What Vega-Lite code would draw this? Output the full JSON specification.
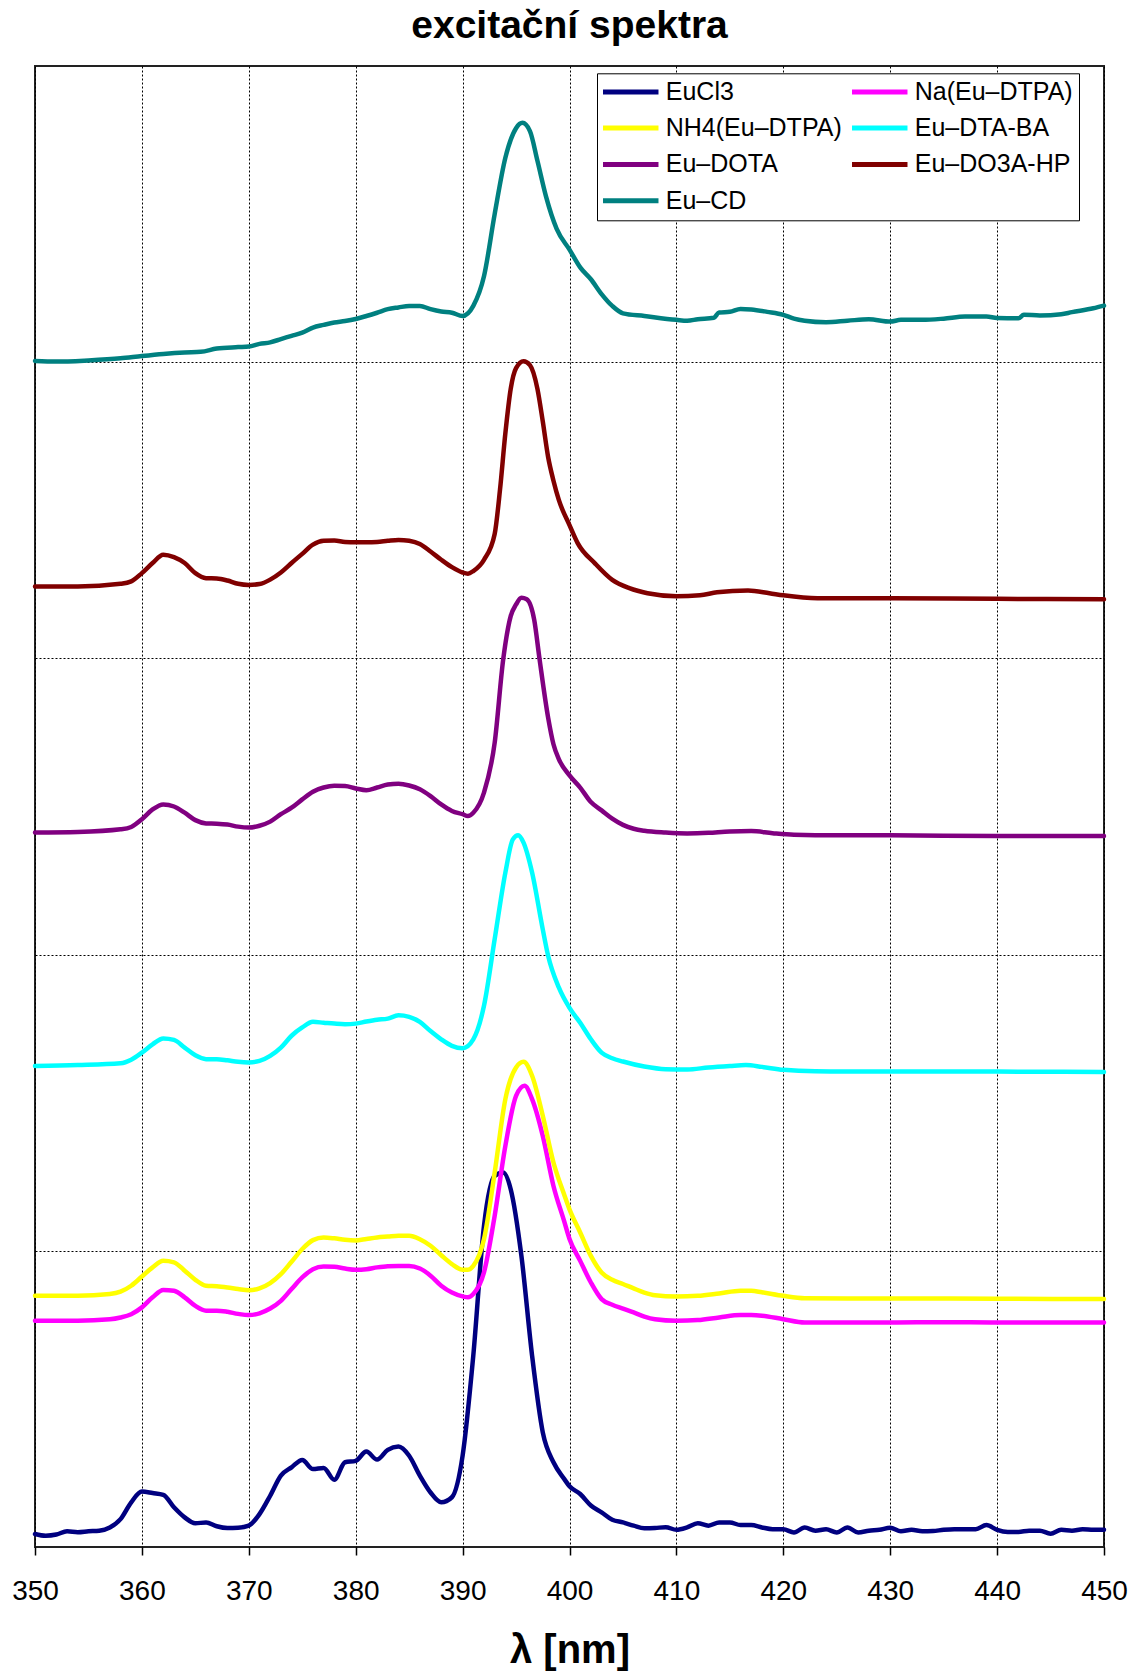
{
  "$schema": "https://vega.github.io/schema/vega-lite/v6.json",
  "width": 1069,
  "height": 1481,
  "autosize": {"type": "none"},
  "padding": {"left": 35, "top": 66, "right": 28, "bottom": 128},
  "background": "white",
  "title": {
    "text": "excitační spektra",
    "font": "Liberation Sans",
    "fontSize": 39,
    "fontWeight": "bold",
    "color": "black",
    "anchor": "middle",
    "baseline": "alphabetic",
    "offset": 25,
    "dy": 36
  },
  "config": {
    "font": "Liberation Sans",
    "view": {"stroke": "#222222", "strokeWidth": 2}
  },
  "data": {
    "values": [
      {"s": "EuCl3", "x": 350, "y": 0.044}, {"s": "EuCl3", "x": 351, "y": 0.038}, {"s": "EuCl3", "x": 352, "y": 0.042}, {"s": "EuCl3", "x": 353, "y": 0.053}, {"s": "EuCl3", "x": 354, "y": 0.05}, {"s": "EuCl3", "x": 355, "y": 0.053}, {"s": "EuCl3", "x": 356, "y": 0.055}, {"s": "EuCl3", "x": 357, "y": 0.066}, {"s": "EuCl3", "x": 358, "y": 0.094}, {"s": "EuCl3", "x": 359, "y": 0.151}, {"s": "EuCl3", "x": 360, "y": 0.187}, {"s": "EuCl3", "x": 361, "y": 0.182}, {"s": "EuCl3", "x": 362, "y": 0.176}, {"s": "EuCl3", "x": 363, "y": 0.134}, {"s": "EuCl3", "x": 364, "y": 0.1}, {"s": "EuCl3", "x": 365, "y": 0.08}, {"s": "EuCl3", "x": 366, "y": 0.083}, {"s": "EuCl3", "x": 367, "y": 0.07}, {"s": "EuCl3", "x": 368, "y": 0.064}, {"s": "EuCl3", "x": 369, "y": 0.065}, {"s": "EuCl3", "x": 370, "y": 0.072}, {"s": "EuCl3", "x": 371, "y": 0.111}, {"s": "EuCl3", "x": 372, "y": 0.173}, {"s": "EuCl3", "x": 373, "y": 0.241}, {"s": "EuCl3", "x": 374, "y": 0.269}, {"s": "EuCl3", "x": 375, "y": 0.294}, {"s": "EuCl3", "x": 376, "y": 0.263}, {"s": "EuCl3", "x": 377, "y": 0.267}, {"s": "EuCl3", "x": 378, "y": 0.227}, {"s": "EuCl3", "x": 379, "y": 0.286}, {"s": "EuCl3", "x": 380, "y": 0.291}, {"s": "EuCl3", "x": 381, "y": 0.322}, {"s": "EuCl3", "x": 382, "y": 0.295}, {"s": "EuCl3", "x": 383, "y": 0.328}, {"s": "EuCl3", "x": 384, "y": 0.339}, {"s": "EuCl3", "x": 385, "y": 0.308}, {"s": "EuCl3", "x": 386, "y": 0.241}, {"s": "EuCl3", "x": 387, "y": 0.184}, {"s": "EuCl3", "x": 388, "y": 0.151}, {"s": "EuCl3", "x": 389, "y": 0.168}, {"s": "EuCl3", "x": 390, "y": 0.308}, {"s": "EuCl3", "x": 391, "y": 0.646}, {"s": "EuCl3", "x": 392, "y": 1.084}, {"s": "EuCl3", "x": 393, "y": 1.253}, {"s": "EuCl3", "x": 393.8, "y": 1.264}, {"s": "EuCl3", "x": 394.5, "y": 1.208}, {"s": "EuCl3", "x": 395.5, "y": 0.983}, {"s": "EuCl3", "x": 396.5, "y": 0.646}, {"s": "EuCl3", "x": 397.5, "y": 0.387}, {"s": "EuCl3", "x": 398.5, "y": 0.286}, {"s": "EuCl3", "x": 399.5, "y": 0.23}, {"s": "EuCl3", "x": 400, "y": 0.205}, {"s": "EuCl3", "x": 401, "y": 0.179}, {"s": "EuCl3", "x": 402, "y": 0.14}, {"s": "EuCl3", "x": 403, "y": 0.117}, {"s": "EuCl3", "x": 404, "y": 0.092}, {"s": "EuCl3", "x": 405, "y": 0.083}, {"s": "EuCl3", "x": 406, "y": 0.072}, {"s": "EuCl3", "x": 407, "y": 0.063}, {"s": "EuCl3", "x": 408, "y": 0.064}, {"s": "EuCl3", "x": 409, "y": 0.067}, {"s": "EuCl3", "x": 410, "y": 0.058}, {"s": "EuCl3", "x": 411, "y": 0.066}, {"s": "EuCl3", "x": 412, "y": 0.08}, {"s": "EuCl3", "x": 413, "y": 0.072}, {"s": "EuCl3", "x": 414, "y": 0.083}, {"s": "EuCl3", "x": 415, "y": 0.083}, {"s": "EuCl3", "x": 416, "y": 0.074}, {"s": "EuCl3", "x": 417, "y": 0.074}, {"s": "EuCl3", "x": 418, "y": 0.066}, {"s": "EuCl3", "x": 419, "y": 0.06}, {"s": "EuCl3", "x": 420, "y": 0.06}, {"s": "EuCl3", "x": 421, "y": 0.049}, {"s": "EuCl3", "x": 422, "y": 0.066}, {"s": "EuCl3", "x": 423, "y": 0.055}, {"s": "EuCl3", "x": 424, "y": 0.06}, {"s": "EuCl3", "x": 425, "y": 0.049}, {"s": "EuCl3", "x": 426, "y": 0.066}, {"s": "EuCl3", "x": 427, "y": 0.049}, {"s": "EuCl3", "x": 428, "y": 0.055}, {"s": "EuCl3", "x": 429, "y": 0.058}, {"s": "EuCl3", "x": 430, "y": 0.065}, {"s": "EuCl3", "x": 431, "y": 0.053}, {"s": "EuCl3", "x": 432, "y": 0.058}, {"s": "EuCl3", "x": 433, "y": 0.053}, {"s": "EuCl3", "x": 434, "y": 0.054}, {"s": "EuCl3", "x": 435, "y": 0.058}, {"s": "EuCl3", "x": 436, "y": 0.06}, {"s": "EuCl3", "x": 437, "y": 0.06}, {"s": "EuCl3", "x": 438, "y": 0.06}, {"s": "EuCl3", "x": 439, "y": 0.074}, {"s": "EuCl3", "x": 440, "y": 0.058}, {"s": "EuCl3", "x": 441, "y": 0.051}, {"s": "EuCl3", "x": 442, "y": 0.051}, {"s": "EuCl3", "x": 443, "y": 0.055}, {"s": "EuCl3", "x": 444, "y": 0.055}, {"s": "EuCl3", "x": 445, "y": 0.045}, {"s": "EuCl3", "x": 446, "y": 0.058}, {"s": "EuCl3", "x": 447, "y": 0.055}, {"s": "EuCl3", "x": 448, "y": 0.06}, {"s": "EuCl3", "x": 449, "y": 0.058}, {"s": "EuCl3", "x": 450, "y": 0.058},

      {"s": "Na(Eu–DTPA)", "x": 350, "y": 0.764}, {"s": "Na(Eu–DTPA)", "x": 354, "y": 0.764}, {"s": "Na(Eu–DTPA)", "x": 357, "y": 0.769}, {"s": "Na(Eu–DTPA)", "x": 358, "y": 0.775}, {"s": "Na(Eu–DTPA)", "x": 359, "y": 0.786}, {"s": "Na(Eu–DTPA)", "x": 360, "y": 0.809}, {"s": "Na(Eu–DTPA)", "x": 361, "y": 0.843}, {"s": "Na(Eu–DTPA)", "x": 362, "y": 0.868}, {"s": "Na(Eu–DTPA)", "x": 363, "y": 0.865}, {"s": "Na(Eu–DTPA)", "x": 364, "y": 0.843}, {"s": "Na(Eu–DTPA)", "x": 365, "y": 0.814}, {"s": "Na(Eu–DTPA)", "x": 366, "y": 0.798}, {"s": "Na(Eu–DTPA)", "x": 367, "y": 0.798}, {"s": "Na(Eu–DTPA)", "x": 368, "y": 0.794}, {"s": "Na(Eu–DTPA)", "x": 369, "y": 0.787}, {"s": "Na(Eu–DTPA)", "x": 370, "y": 0.783}, {"s": "Na(Eu–DTPA)", "x": 371, "y": 0.789}, {"s": "Na(Eu–DTPA)", "x": 372, "y": 0.805}, {"s": "Na(Eu–DTPA)", "x": 373, "y": 0.831}, {"s": "Na(Eu–DTPA)", "x": 374, "y": 0.871}, {"s": "Na(Eu–DTPA)", "x": 375, "y": 0.91}, {"s": "Na(Eu–DTPA)", "x": 376, "y": 0.938}, {"s": "Na(Eu–DTPA)", "x": 377, "y": 0.947}, {"s": "Na(Eu–DTPA)", "x": 378, "y": 0.946}, {"s": "Na(Eu–DTPA)", "x": 379, "y": 0.94}, {"s": "Na(Eu–DTPA)", "x": 380, "y": 0.936}, {"s": "Na(Eu–DTPA)", "x": 381, "y": 0.938}, {"s": "Na(Eu–DTPA)", "x": 382, "y": 0.944}, {"s": "Na(Eu–DTPA)", "x": 383, "y": 0.948}, {"s": "Na(Eu–DTPA)", "x": 384, "y": 0.949}, {"s": "Na(Eu–DTPA)", "x": 385, "y": 0.949}, {"s": "Na(Eu–DTPA)", "x": 386, "y": 0.94}, {"s": "Na(Eu–DTPA)", "x": 387, "y": 0.916}, {"s": "Na(Eu–DTPA)", "x": 388, "y": 0.882}, {"s": "Na(Eu–DTPA)", "x": 389, "y": 0.859}, {"s": "Na(Eu–DTPA)", "x": 390, "y": 0.846}, {"s": "Na(Eu–DTPA)", "x": 390.5, "y": 0.843}, {"s": "Na(Eu–DTPA)", "x": 391, "y": 0.854}, {"s": "Na(Eu–DTPA)", "x": 392, "y": 0.927}, {"s": "Na(Eu–DTPA)", "x": 393, "y": 1.118}, {"s": "Na(Eu–DTPA)", "x": 394, "y": 1.354}, {"s": "Na(Eu–DTPA)", "x": 395, "y": 1.523}, {"s": "Na(Eu–DTPA)", "x": 395.8, "y": 1.557}, {"s": "Na(Eu–DTPA)", "x": 396.5, "y": 1.512}, {"s": "Na(Eu–DTPA)", "x": 397.5, "y": 1.388}, {"s": "Na(Eu–DTPA)", "x": 398.5, "y": 1.219}, {"s": "Na(Eu–DTPA)", "x": 399.5, "y": 1.1}, {"s": "Na(Eu–DTPA)", "x": 400, "y": 1.04}, {"s": "Na(Eu–DTPA)", "x": 401, "y": 0.966}, {"s": "Na(Eu–DTPA)", "x": 402, "y": 0.893}, {"s": "Na(Eu–DTPA)", "x": 403, "y": 0.837}, {"s": "Na(Eu–DTPA)", "x": 404, "y": 0.818}, {"s": "Na(Eu–DTPA)", "x": 405, "y": 0.805}, {"s": "Na(Eu–DTPA)", "x": 406, "y": 0.792}, {"s": "Na(Eu–DTPA)", "x": 407, "y": 0.778}, {"s": "Na(Eu–DTPA)", "x": 408, "y": 0.769}, {"s": "Na(Eu–DTPA)", "x": 410, "y": 0.764}, {"s": "Na(Eu–DTPA)", "x": 412, "y": 0.766}, {"s": "Na(Eu–DTPA)", "x": 414, "y": 0.775}, {"s": "Na(Eu–DTPA)", "x": 416, "y": 0.783}, {"s": "Na(Eu–DTPA)", "x": 417, "y": 0.783}, {"s": "Na(Eu–DTPA)", "x": 418, "y": 0.781}, {"s": "Na(Eu–DTPA)", "x": 420, "y": 0.769}, {"s": "Na(Eu–DTPA)", "x": 422, "y": 0.758}, {"s": "Na(Eu–DTPA)", "x": 426, "y": 0.758}, {"s": "Na(Eu–DTPA)", "x": 430, "y": 0.758}, {"s": "Na(Eu–DTPA)", "x": 435, "y": 0.759}, {"s": "Na(Eu–DTPA)", "x": 440, "y": 0.758}, {"s": "Na(Eu–DTPA)", "x": 445, "y": 0.758}, {"s": "Na(Eu–DTPA)", "x": 450, "y": 0.758},

      {"s": "NH4(Eu–DTPA)", "x": 350, "y": 0.848}, {"s": "NH4(Eu–DTPA)", "x": 354, "y": 0.848}, {"s": "NH4(Eu–DTPA)", "x": 357, "y": 0.854}, {"s": "NH4(Eu–DTPA)", "x": 358, "y": 0.862}, {"s": "NH4(Eu–DTPA)", "x": 359, "y": 0.882}, {"s": "NH4(Eu–DTPA)", "x": 360, "y": 0.913}, {"s": "NH4(Eu–DTPA)", "x": 361, "y": 0.944}, {"s": "NH4(Eu–DTPA)", "x": 362, "y": 0.966}, {"s": "NH4(Eu–DTPA)", "x": 363, "y": 0.961}, {"s": "NH4(Eu–DTPA)", "x": 364, "y": 0.933}, {"s": "NH4(Eu–DTPA)", "x": 365, "y": 0.902}, {"s": "NH4(Eu–DTPA)", "x": 366, "y": 0.882}, {"s": "NH4(Eu–DTPA)", "x": 367, "y": 0.88}, {"s": "NH4(Eu–DTPA)", "x": 368, "y": 0.876}, {"s": "NH4(Eu–DTPA)", "x": 369, "y": 0.871}, {"s": "NH4(Eu–DTPA)", "x": 370, "y": 0.867}, {"s": "NH4(Eu–DTPA)", "x": 371, "y": 0.873}, {"s": "NH4(Eu–DTPA)", "x": 372, "y": 0.891}, {"s": "NH4(Eu–DTPA)", "x": 373, "y": 0.921}, {"s": "NH4(Eu–DTPA)", "x": 374, "y": 0.963}, {"s": "NH4(Eu–DTPA)", "x": 375, "y": 1.006}, {"s": "NH4(Eu–DTPA)", "x": 376, "y": 1.036}, {"s": "NH4(Eu–DTPA)", "x": 377, "y": 1.045}, {"s": "NH4(Eu–DTPA)", "x": 378, "y": 1.042}, {"s": "NH4(Eu–DTPA)", "x": 379, "y": 1.037}, {"s": "NH4(Eu–DTPA)", "x": 380, "y": 1.035}, {"s": "NH4(Eu–DTPA)", "x": 381, "y": 1.04}, {"s": "NH4(Eu–DTPA)", "x": 382, "y": 1.045}, {"s": "NH4(Eu–DTPA)", "x": 383, "y": 1.048}, {"s": "NH4(Eu–DTPA)", "x": 384, "y": 1.051}, {"s": "NH4(Eu–DTPA)", "x": 385, "y": 1.051}, {"s": "NH4(Eu–DTPA)", "x": 386, "y": 1.039}, {"s": "NH4(Eu–DTPA)", "x": 387, "y": 1.017}, {"s": "NH4(Eu–DTPA)", "x": 388, "y": 0.985}, {"s": "NH4(Eu–DTPA)", "x": 389, "y": 0.955}, {"s": "NH4(Eu–DTPA)", "x": 390, "y": 0.936}, {"s": "NH4(Eu–DTPA)", "x": 390.5, "y": 0.936}, {"s": "NH4(Eu–DTPA)", "x": 391, "y": 0.949}, {"s": "NH4(Eu–DTPA)", "x": 392, "y": 1.039}, {"s": "NH4(Eu–DTPA)", "x": 393, "y": 1.264}, {"s": "NH4(Eu–DTPA)", "x": 394, "y": 1.512}, {"s": "NH4(Eu–DTPA)", "x": 395, "y": 1.619}, {"s": "NH4(Eu–DTPA)", "x": 395.7, "y": 1.638}, {"s": "NH4(Eu–DTPA)", "x": 396.5, "y": 1.591}, {"s": "NH4(Eu–DTPA)", "x": 397.5, "y": 1.456}, {"s": "NH4(Eu–DTPA)", "x": 398.5, "y": 1.298}, {"s": "NH4(Eu–DTPA)", "x": 399.5, "y": 1.19}, {"s": "NH4(Eu–DTPA)", "x": 400, "y": 1.14}, {"s": "NH4(Eu–DTPA)", "x": 401, "y": 1.062}, {"s": "NH4(Eu–DTPA)", "x": 402, "y": 0.983}, {"s": "NH4(Eu–DTPA)", "x": 403, "y": 0.927}, {"s": "NH4(Eu–DTPA)", "x": 404, "y": 0.902}, {"s": "NH4(Eu–DTPA)", "x": 405, "y": 0.888}, {"s": "NH4(Eu–DTPA)", "x": 406, "y": 0.873}, {"s": "NH4(Eu–DTPA)", "x": 407, "y": 0.859}, {"s": "NH4(Eu–DTPA)", "x": 408, "y": 0.85}, {"s": "NH4(Eu–DTPA)", "x": 410, "y": 0.846}, {"s": "NH4(Eu–DTPA)", "x": 412, "y": 0.848}, {"s": "NH4(Eu–DTPA)", "x": 414, "y": 0.856}, {"s": "NH4(Eu–DTPA)", "x": 416, "y": 0.865}, {"s": "NH4(Eu–DTPA)", "x": 417, "y": 0.865}, {"s": "NH4(Eu–DTPA)", "x": 418, "y": 0.86}, {"s": "NH4(Eu–DTPA)", "x": 420, "y": 0.848}, {"s": "NH4(Eu–DTPA)", "x": 422, "y": 0.84}, {"s": "NH4(Eu–DTPA)", "x": 426, "y": 0.839}, {"s": "NH4(Eu–DTPA)", "x": 430, "y": 0.839}, {"s": "NH4(Eu–DTPA)", "x": 440, "y": 0.838}, {"s": "NH4(Eu–DTPA)", "x": 450, "y": 0.837},

      {"s": "Eu–DTA-BA", "x": 350, "y": 1.624}, {"s": "Eu–DTA-BA", "x": 354, "y": 1.627}, {"s": "Eu–DTA-BA", "x": 358, "y": 1.633}, {"s": "Eu–DTA-BA", "x": 359, "y": 1.645}, {"s": "Eu–DTA-BA", "x": 360, "y": 1.669}, {"s": "Eu–DTA-BA", "x": 361, "y": 1.697}, {"s": "Eu–DTA-BA", "x": 362, "y": 1.717}, {"s": "Eu–DTA-BA", "x": 363, "y": 1.712}, {"s": "Eu–DTA-BA", "x": 364, "y": 1.686}, {"s": "Eu–DTA-BA", "x": 365, "y": 1.66}, {"s": "Eu–DTA-BA", "x": 366, "y": 1.647}, {"s": "Eu–DTA-BA", "x": 367, "y": 1.647}, {"s": "Eu–DTA-BA", "x": 368, "y": 1.643}, {"s": "Eu–DTA-BA", "x": 369, "y": 1.638}, {"s": "Eu–DTA-BA", "x": 370, "y": 1.636}, {"s": "Eu–DTA-BA", "x": 371, "y": 1.641}, {"s": "Eu–DTA-BA", "x": 372, "y": 1.658}, {"s": "Eu–DTA-BA", "x": 373, "y": 1.686}, {"s": "Eu–DTA-BA", "x": 374, "y": 1.726}, {"s": "Eu–DTA-BA", "x": 375, "y": 1.754}, {"s": "Eu–DTA-BA", "x": 376, "y": 1.773}, {"s": "Eu–DTA-BA", "x": 377, "y": 1.77}, {"s": "Eu–DTA-BA", "x": 378, "y": 1.767}, {"s": "Eu–DTA-BA", "x": 379, "y": 1.765}, {"s": "Eu–DTA-BA", "x": 380, "y": 1.767}, {"s": "Eu–DTA-BA", "x": 381, "y": 1.774}, {"s": "Eu–DTA-BA", "x": 382, "y": 1.78}, {"s": "Eu–DTA-BA", "x": 383, "y": 1.784}, {"s": "Eu–DTA-BA", "x": 384, "y": 1.795}, {"s": "Eu–DTA-BA", "x": 385, "y": 1.79}, {"s": "Eu–DTA-BA", "x": 386, "y": 1.773}, {"s": "Eu–DTA-BA", "x": 387, "y": 1.742}, {"s": "Eu–DTA-BA", "x": 388, "y": 1.714}, {"s": "Eu–DTA-BA", "x": 389, "y": 1.692}, {"s": "Eu–DTA-BA", "x": 390, "y": 1.684}, {"s": "Eu–DTA-BA", "x": 391, "y": 1.714}, {"s": "Eu–DTA-BA", "x": 392, "y": 1.827}, {"s": "Eu–DTA-BA", "x": 393, "y": 2.052}, {"s": "Eu–DTA-BA", "x": 394, "y": 2.277}, {"s": "Eu–DTA-BA", "x": 394.7, "y": 2.389}, {"s": "Eu–DTA-BA", "x": 395.2, "y": 2.403}, {"s": "Eu–DTA-BA", "x": 395.7, "y": 2.378}, {"s": "Eu–DTA-BA", "x": 396.5, "y": 2.277}, {"s": "Eu–DTA-BA", "x": 397.5, "y": 2.085}, {"s": "Eu–DTA-BA", "x": 398, "y": 1.996}, {"s": "Eu–DTA-BA", "x": 399, "y": 1.889}, {"s": "Eu–DTA-BA", "x": 400, "y": 1.82}, {"s": "Eu–DTA-BA", "x": 401, "y": 1.77}, {"s": "Eu–DTA-BA", "x": 402, "y": 1.714}, {"s": "Eu–DTA-BA", "x": 403, "y": 1.669}, {"s": "Eu–DTA-BA", "x": 404, "y": 1.65}, {"s": "Eu–DTA-BA", "x": 405, "y": 1.639}, {"s": "Eu–DTA-BA", "x": 407, "y": 1.622}, {"s": "Eu–DTA-BA", "x": 409, "y": 1.613}, {"s": "Eu–DTA-BA", "x": 411, "y": 1.612}, {"s": "Eu–DTA-BA", "x": 413, "y": 1.619}, {"s": "Eu–DTA-BA", "x": 415, "y": 1.624}, {"s": "Eu–DTA-BA", "x": 416.5, "y": 1.627}, {"s": "Eu–DTA-BA", "x": 418, "y": 1.621}, {"s": "Eu–DTA-BA", "x": 420, "y": 1.611}, {"s": "Eu–DTA-BA", "x": 423, "y": 1.606}, {"s": "Eu–DTA-BA", "x": 430, "y": 1.605}, {"s": "Eu–DTA-BA", "x": 440, "y": 1.605}, {"s": "Eu–DTA-BA", "x": 450, "y": 1.604},

      {"s": "Eu–DOTA", "x": 350, "y": 2.412}, {"s": "Eu–DOTA", "x": 354, "y": 2.414}, {"s": "Eu–DOTA", "x": 358, "y": 2.423}, {"s": "Eu–DOTA", "x": 359, "y": 2.431}, {"s": "Eu–DOTA", "x": 360, "y": 2.457}, {"s": "Eu–DOTA", "x": 361, "y": 2.49}, {"s": "Eu–DOTA", "x": 362, "y": 2.507}, {"s": "Eu–DOTA", "x": 363, "y": 2.5}, {"s": "Eu–DOTA", "x": 364, "y": 2.479}, {"s": "Eu–DOTA", "x": 365, "y": 2.454}, {"s": "Eu–DOTA", "x": 366, "y": 2.443}, {"s": "Eu–DOTA", "x": 367, "y": 2.442}, {"s": "Eu–DOTA", "x": 368, "y": 2.439}, {"s": "Eu–DOTA", "x": 369, "y": 2.432}, {"s": "Eu–DOTA", "x": 370, "y": 2.429}, {"s": "Eu–DOTA", "x": 371, "y": 2.435}, {"s": "Eu–DOTA", "x": 372, "y": 2.449}, {"s": "Eu–DOTA", "x": 373, "y": 2.474}, {"s": "Eu–DOTA", "x": 374, "y": 2.496}, {"s": "Eu–DOTA", "x": 375, "y": 2.524}, {"s": "Eu–DOTA", "x": 376, "y": 2.55}, {"s": "Eu–DOTA", "x": 377, "y": 2.564}, {"s": "Eu–DOTA", "x": 378, "y": 2.57}, {"s": "Eu–DOTA", "x": 379, "y": 2.569}, {"s": "Eu–DOTA", "x": 380, "y": 2.561}, {"s": "Eu–DOTA", "x": 381, "y": 2.555}, {"s": "Eu–DOTA", "x": 382, "y": 2.564}, {"s": "Eu–DOTA", "x": 383, "y": 2.574}, {"s": "Eu–DOTA", "x": 384, "y": 2.577}, {"s": "Eu–DOTA", "x": 385, "y": 2.571}, {"s": "Eu–DOTA", "x": 386, "y": 2.558}, {"s": "Eu–DOTA", "x": 387, "y": 2.535}, {"s": "Eu–DOTA", "x": 388, "y": 2.507}, {"s": "Eu–DOTA", "x": 389, "y": 2.485}, {"s": "Eu–DOTA", "x": 390, "y": 2.474}, {"s": "Eu–DOTA", "x": 390.5, "y": 2.468}, {"s": "Eu–DOTA", "x": 391, "y": 2.479}, {"s": "Eu–DOTA", "x": 392, "y": 2.547}, {"s": "Eu–DOTA", "x": 393, "y": 2.715}, {"s": "Eu–DOTA", "x": 393.8, "y": 2.997}, {"s": "Eu–DOTA", "x": 394.5, "y": 3.143}, {"s": "Eu–DOTA", "x": 395, "y": 3.182}, {"s": "Eu–DOTA", "x": 395.5, "y": 3.205}, {"s": "Eu–DOTA", "x": 396, "y": 3.2}, {"s": "Eu–DOTA", "x": 396.7, "y": 3.13}, {"s": "Eu–DOTA", "x": 397.2, "y": 2.997}, {"s": "Eu–DOTA", "x": 398, "y": 2.8}, {"s": "Eu–DOTA", "x": 398.5, "y": 2.71}, {"s": "Eu–DOTA", "x": 399, "y": 2.66}, {"s": "Eu–DOTA", "x": 400, "y": 2.605}, {"s": "Eu–DOTA", "x": 401, "y": 2.564}, {"s": "Eu–DOTA", "x": 402, "y": 2.515}, {"s": "Eu–DOTA", "x": 403, "y": 2.487}, {"s": "Eu–DOTA", "x": 404, "y": 2.459}, {"s": "Eu–DOTA", "x": 405, "y": 2.438}, {"s": "Eu–DOTA", "x": 406, "y": 2.425}, {"s": "Eu–DOTA", "x": 407, "y": 2.418}, {"s": "Eu–DOTA", "x": 409, "y": 2.412}, {"s": "Eu–DOTA", "x": 411, "y": 2.409}, {"s": "Eu–DOTA", "x": 413, "y": 2.411}, {"s": "Eu–DOTA", "x": 415, "y": 2.416}, {"s": "Eu–DOTA", "x": 417, "y": 2.417}, {"s": "Eu–DOTA", "x": 419, "y": 2.41}, {"s": "Eu–DOTA", "x": 421, "y": 2.405}, {"s": "Eu–DOTA", "x": 425, "y": 2.403}, {"s": "Eu–DOTA", "x": 430, "y": 2.403}, {"s": "Eu–DOTA", "x": 440, "y": 2.4}, {"s": "Eu–DOTA", "x": 450, "y": 2.4},

      {"s": "Eu–DO3A-HP", "x": 350, "y": 3.243}, {"s": "Eu–DO3A-HP", "x": 354, "y": 3.243}, {"s": "Eu–DO3A-HP", "x": 358, "y": 3.252}, {"s": "Eu–DO3A-HP", "x": 359, "y": 3.26}, {"s": "Eu–DO3A-HP", "x": 360, "y": 3.288}, {"s": "Eu–DO3A-HP", "x": 361, "y": 3.322}, {"s": "Eu–DO3A-HP", "x": 362, "y": 3.35}, {"s": "Eu–DO3A-HP", "x": 363, "y": 3.342}, {"s": "Eu–DO3A-HP", "x": 364, "y": 3.322}, {"s": "Eu–DO3A-HP", "x": 365, "y": 3.288}, {"s": "Eu–DO3A-HP", "x": 366, "y": 3.271}, {"s": "Eu–DO3A-HP", "x": 367, "y": 3.27}, {"s": "Eu–DO3A-HP", "x": 368, "y": 3.263}, {"s": "Eu–DO3A-HP", "x": 369, "y": 3.252}, {"s": "Eu–DO3A-HP", "x": 370, "y": 3.248}, {"s": "Eu–DO3A-HP", "x": 371, "y": 3.251}, {"s": "Eu–DO3A-HP", "x": 372, "y": 3.266}, {"s": "Eu–DO3A-HP", "x": 373, "y": 3.29}, {"s": "Eu–DO3A-HP", "x": 374, "y": 3.322}, {"s": "Eu–DO3A-HP", "x": 375, "y": 3.353}, {"s": "Eu–DO3A-HP", "x": 376, "y": 3.384}, {"s": "Eu–DO3A-HP", "x": 377, "y": 3.397}, {"s": "Eu–DO3A-HP", "x": 378, "y": 3.398}, {"s": "Eu–DO3A-HP", "x": 379, "y": 3.393}, {"s": "Eu–DO3A-HP", "x": 380, "y": 3.392}, {"s": "Eu–DO3A-HP", "x": 381, "y": 3.392}, {"s": "Eu–DO3A-HP", "x": 382, "y": 3.393}, {"s": "Eu–DO3A-HP", "x": 383, "y": 3.397}, {"s": "Eu–DO3A-HP", "x": 384, "y": 3.4}, {"s": "Eu–DO3A-HP", "x": 385, "y": 3.397}, {"s": "Eu–DO3A-HP", "x": 386, "y": 3.386}, {"s": "Eu–DO3A-HP", "x": 387, "y": 3.361}, {"s": "Eu–DO3A-HP", "x": 388, "y": 3.333}, {"s": "Eu–DO3A-HP", "x": 389, "y": 3.308}, {"s": "Eu–DO3A-HP", "x": 390, "y": 3.29}, {"s": "Eu–DO3A-HP", "x": 390.5, "y": 3.286}, {"s": "Eu–DO3A-HP", "x": 391, "y": 3.295}, {"s": "Eu–DO3A-HP", "x": 392, "y": 3.333}, {"s": "Eu–DO3A-HP", "x": 393, "y": 3.42}, {"s": "Eu–DO3A-HP", "x": 393.5, "y": 3.57}, {"s": "Eu–DO3A-HP", "x": 394, "y": 3.76}, {"s": "Eu–DO3A-HP", "x": 394.5, "y": 3.91}, {"s": "Eu–DO3A-HP", "x": 395, "y": 3.98}, {"s": "Eu–DO3A-HP", "x": 395.7, "y": 4.003}, {"s": "Eu–DO3A-HP", "x": 396.3, "y": 3.99}, {"s": "Eu–DO3A-HP", "x": 397, "y": 3.91}, {"s": "Eu–DO3A-HP", "x": 397.5, "y": 3.8}, {"s": "Eu–DO3A-HP", "x": 398, "y": 3.68}, {"s": "Eu–DO3A-HP", "x": 398.5, "y": 3.6}, {"s": "Eu–DO3A-HP", "x": 399, "y": 3.535}, {"s": "Eu–DO3A-HP", "x": 400, "y": 3.45}, {"s": "Eu–DO3A-HP", "x": 400.75, "y": 3.39}, {"s": "Eu–DO3A-HP", "x": 402.4, "y": 3.32}, {"s": "Eu–DO3A-HP", "x": 404, "y": 3.265}, {"s": "Eu–DO3A-HP", "x": 405.6, "y": 3.237}, {"s": "Eu–DO3A-HP", "x": 407.3, "y": 3.22}, {"s": "Eu–DO3A-HP", "x": 410, "y": 3.21}, {"s": "Eu–DO3A-HP", "x": 412.2, "y": 3.213}, {"s": "Eu–DO3A-HP", "x": 413.8, "y": 3.223}, {"s": "Eu–DO3A-HP", "x": 416.7, "y": 3.229}, {"s": "Eu–DO3A-HP", "x": 418.7, "y": 3.22}, {"s": "Eu–DO3A-HP", "x": 420, "y": 3.213}, {"s": "Eu–DO3A-HP", "x": 423.2, "y": 3.203}, {"s": "Eu–DO3A-HP", "x": 430, "y": 3.203}, {"s": "Eu–DO3A-HP", "x": 440, "y": 3.201}, {"s": "Eu–DO3A-HP", "x": 450, "y": 3.2},

      {"s": "Eu–CD", "x": 350, "y": 4.004}, {"s": "Eu–CD", "x": 352, "y": 4.002}, {"s": "Eu–CD", "x": 355, "y": 4.006}, {"s": "Eu–CD", "x": 358, "y": 4.013}, {"s": "Eu–CD", "x": 360, "y": 4.021}, {"s": "Eu–CD", "x": 362, "y": 4.028}, {"s": "Eu–CD", "x": 364, "y": 4.033}, {"s": "Eu–CD", "x": 365.5, "y": 4.035}, {"s": "Eu–CD", "x": 367, "y": 4.046}, {"s": "Eu–CD", "x": 369, "y": 4.051}, {"s": "Eu–CD", "x": 370, "y": 4.053}, {"s": "Eu–CD", "x": 371, "y": 4.062}, {"s": "Eu–CD", "x": 372, "y": 4.067}, {"s": "Eu–CD", "x": 373, "y": 4.078}, {"s": "Eu–CD", "x": 374, "y": 4.089}, {"s": "Eu–CD", "x": 375, "y": 4.1}, {"s": "Eu–CD", "x": 376, "y": 4.117}, {"s": "Eu–CD", "x": 377, "y": 4.126}, {"s": "Eu–CD", "x": 378, "y": 4.134}, {"s": "Eu–CD", "x": 379, "y": 4.139}, {"s": "Eu–CD", "x": 380, "y": 4.146}, {"s": "Eu–CD", "x": 381, "y": 4.156}, {"s": "Eu–CD", "x": 382, "y": 4.167}, {"s": "Eu–CD", "x": 383, "y": 4.179}, {"s": "Eu–CD", "x": 384, "y": 4.185}, {"s": "Eu–CD", "x": 385, "y": 4.19}, {"s": "Eu–CD", "x": 386, "y": 4.19}, {"s": "Eu–CD", "x": 387, "y": 4.179}, {"s": "Eu–CD", "x": 388, "y": 4.171}, {"s": "Eu–CD", "x": 389, "y": 4.167}, {"s": "Eu–CD", "x": 390, "y": 4.156}, {"s": "Eu–CD", "x": 391, "y": 4.19}, {"s": "Eu–CD", "x": 392, "y": 4.29}, {"s": "Eu–CD", "x": 393, "y": 4.5}, {"s": "Eu–CD", "x": 394, "y": 4.69}, {"s": "Eu–CD", "x": 395, "y": 4.79}, {"s": "Eu–CD", "x": 395.6, "y": 4.808}, {"s": "Eu–CD", "x": 396.3, "y": 4.78}, {"s": "Eu–CD", "x": 397, "y": 4.68}, {"s": "Eu–CD", "x": 397.8, "y": 4.56}, {"s": "Eu–CD", "x": 398.8, "y": 4.45}, {"s": "Eu–CD", "x": 400, "y": 4.38}, {"s": "Eu–CD", "x": 401, "y": 4.32}, {"s": "Eu–CD", "x": 402, "y": 4.28}, {"s": "Eu–CD", "x": 403, "y": 4.23}, {"s": "Eu–CD", "x": 404, "y": 4.19}, {"s": "Eu–CD", "x": 405, "y": 4.165}, {"s": "Eu–CD", "x": 407, "y": 4.156}, {"s": "Eu–CD", "x": 410, "y": 4.143}, {"s": "Eu–CD", "x": 411, "y": 4.14}, {"s": "Eu–CD", "x": 412, "y": 4.145}, {"s": "Eu–CD", "x": 413.5, "y": 4.15}, {"s": "Eu–CD", "x": 414, "y": 4.168}, {"s": "Eu–CD", "x": 415, "y": 4.17}, {"s": "Eu–CD", "x": 416, "y": 4.18}, {"s": "Eu–CD", "x": 417, "y": 4.178}, {"s": "Eu–CD", "x": 418.5, "y": 4.17}, {"s": "Eu–CD", "x": 420, "y": 4.16}, {"s": "Eu–CD", "x": 421, "y": 4.147}, {"s": "Eu–CD", "x": 422, "y": 4.14}, {"s": "Eu–CD", "x": 424, "y": 4.135}, {"s": "Eu–CD", "x": 426, "y": 4.14}, {"s": "Eu–CD", "x": 428, "y": 4.145}, {"s": "Eu–CD", "x": 430, "y": 4.137}, {"s": "Eu–CD", "x": 431, "y": 4.143}, {"s": "Eu–CD", "x": 433, "y": 4.143}, {"s": "Eu–CD", "x": 435, "y": 4.147}, {"s": "Eu–CD", "x": 437, "y": 4.154}, {"s": "Eu–CD", "x": 439, "y": 4.154}, {"s": "Eu–CD", "x": 440, "y": 4.149}, {"s": "Eu–CD", "x": 442, "y": 4.148}, {"s": "Eu–CD", "x": 442.5, "y": 4.16}, {"s": "Eu–CD", "x": 444, "y": 4.158}, {"s": "Eu–CD", "x": 446, "y": 4.162}, {"s": "Eu–CD", "x": 447, "y": 4.169}, {"s": "Eu–CD", "x": 449, "y": 4.182}, {"s": "Eu–CD", "x": 450, "y": 4.191}
    ]
  },
  "mark": {"type": "line", "strokeWidth": 4.5, "interpolate": "monotone", "strokeCap": "round", "strokeJoin": "round"},
  "encoding": {
    "x": {
      "field": "x",
      "type": "quantitative",
      "scale": {"domain": [350, 450], "nice": false, "zero": false},
      "axis": {
        "values": [350, 360, 370, 380, 390, 400, 410, 420, 430, 440, 450],
        "title": "λ [nm]",
        "titleFont": "Liberation Sans",
        "titleFontSize": 40,
        "titleFontWeight": "bold",
        "titleColor": "black",
        "titleBaseline": "alphabetic",
        "titleAlign": "center",
        "titleX": 534.5,
        "titleY": 115,
        "domain": false,
        "ticks": true,
        "tickSize": 8,
        "tickColor": "black",
        "tickWidth": 1.5,
        "labelFont": "Liberation Sans",
        "labelFontSize": 28,
        "labelColor": "black",
        "labelBaseline": "alphabetic",
        "labelPadding": 44,
        "labelFlush": false,
        "labelOverlap": false,
        "grid": true,
        "gridColor": "black",
        "gridWidth": 1,
        "gridDash": [2, 2]
      }
    },
    "y": {
      "field": "y",
      "type": "quantitative",
      "scale": {"domain": [0, 5], "nice": false, "zero": false},
      "axis": {
        "values": [1, 2, 3, 4],
        "title": null,
        "labels": false,
        "ticks": false,
        "domain": false,
        "grid": true,
        "gridColor": "black",
        "gridWidth": 1,
        "gridDash": [2, 2]
      }
    },
    "color": {
      "field": "s",
      "type": "nominal",
      "sort": null,
      "scale": {
        "domain": ["EuCl3", "Na(Eu–DTPA)", "NH4(Eu–DTPA)", "Eu–DTA-BA", "Eu–DOTA", "Eu–DO3A-HP", "Eu–CD"],
        "range": ["#000080", "#FF00FF", "#FFFF00", "#00FFFF", "#800080", "#800000", "#008080"]
      },
      "legend": {
        "title": null,
        "orient": "none",
        "direction": "horizontal",
        "legendX": 562,
        "legendY": 7.3,
        "columns": 2,
        "columnPadding": 0,
        "rowPadding": 10.3,
        "padding": 6,
        "strokeColor": "black",
        "fillColor": "white",
        "symbolType": "M-2.92,0H2.92",
        "symbolSize": 361,
        "symbolStrokeWidth": 5,
        "symbolOffset": 15.25,
        "labelOffset": 22.5,
        "labelFont": "Liberation Sans",
        "labelFontSize": 25,
        "labelColor": "black",
        "labelLimit": 400
      }
    }
  }
}
